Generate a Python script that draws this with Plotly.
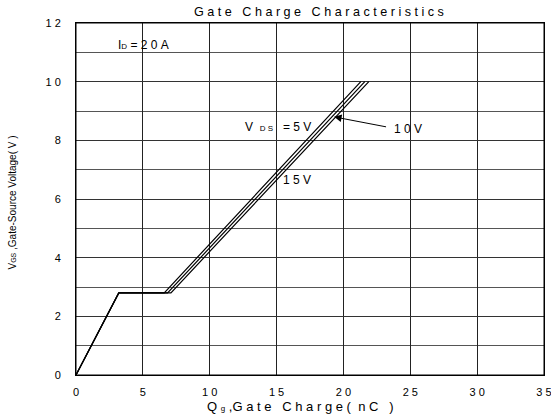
import plotly.graph_objects as go

# Data
qg_5v = [0, 3.2, 6.6, 21.3]
vgs_5v = [0, 2.8, 2.8, 10]
qg_10v = [0, 3.2, 6.85, 21.6]
vgs_10v = [0, 2.8, 2.8, 10]
qg_15v = [0, 3.2, 7.1, 21.9]
vgs_15v = [0, 2.8, 2.8, 10]

x_ticks = [0, 5, 10, 15, 20, 25, 30, 35]
x_ticktext = ["0", "5", "1\u00a00", "1\u00a05", "2\u00a00", "2\u00a05", "3\u00a00", "3\u00a05"]
y_ticks = [0, 2, 4, 6, 8, 10, 12]
y_ticktext = ["0", "2", "4", "6", "8", "1\u00a00", "1\u00a02"]

FONT = "Arial, Liberation Sans, sans-serif"
NB = "\u00a0"


def spaced(s, gap=1):
    """Letter-spaced text using non-breaking spaces."""
    out = []
    for w in s.split(" "):
        out.append(NB.join(list(w)))
    return (NB * (gap + 2)).join(out)


fig = go.Figure()
for xs, ys, name in [(qg_5v, vgs_5v, "5V"), (qg_10v, vgs_10v, "10V"), (qg_15v, vgs_15v, "15V")]:
    fig.add_trace(go.Scatter(x=xs, y=ys, mode="lines", name=name,
                             line=dict(color="black", width=1.2), showlegend=False))

fig.update_layout(
    width=551, height=416,
    margin=dict(l=76, r=7, t=23, b=41, autoexpand=False),
    paper_bgcolor="white", plot_bgcolor="white",
    font=dict(family=FONT, size=11, color="black"),
    showlegend=False,
)

fig.update_xaxes(
    range=[0, 35], tickvals=x_ticks, ticktext=x_ticktext,
    showgrid=True, gridcolor="#222", gridwidth=1,
    showline=True, linecolor="black", linewidth=1, mirror=True,
    ticks="", zeroline=False, ticklabelstandoff=7, ticklabeloverflow="allow",
    tickfont=dict(family=FONT, size=11),
)
fig.update_yaxes(
    range=[0, 12], tickvals=y_ticks, ticktext=y_ticktext,
    showgrid=True, gridcolor="#333", gridwidth=1,
    minor=dict(dtick=1, showgrid=True, gridcolor="#555", gridwidth=1),
    showline=True, linecolor="black", linewidth=1, mirror=True,
    ticks="", zeroline=False, ticklabelstandoff=12, ticklabeloverflow="allow",
    tickfont=dict(family=FONT, size=11),
)

# Plot frame (explicit, so the right edge is drawn)
fig.add_shape(type="rect", xref="paper", yref="paper", x0=0, y0=0, x1=1, y1=1,
              line=dict(color="black", width=1), layer="above")

# Title
fig.add_annotation(text=spaced("Gate Charge Characteristics"),
                   xref="paper", yref="paper", x=0.52, y=1.0, yshift=11,
                   xanchor="center", yanchor="middle",
                   showarrow=False, font=dict(family=FONT, size=12.6))
# X axis title
xtitle = ("Q" + NB + "<span style='font-size:8px'>g</span>" + NB + "," + spaced("Gate") + NB * 3
          + spaced("Charge") + NB + "(" + NB * 2 + "n" + NB + "C" + NB * 3 + ")")
fig.add_annotation(text=xtitle,
                   xref="paper", yref="paper", x=0.48, y=0, yshift=-31,
                   xanchor="center", yanchor="middle",
                   showarrow=False, font=dict(family=FONT, size=13))
# Y axis title
fig.add_annotation(text="V<span style='font-size:7px'>GS</span>" + NB + ",Gate-Source Voltage(" + NB + "V" + NB + ")",
                   xref="paper", yref="paper", x=0, xshift=-63, y=0.49,
                   xanchor="center", yanchor="middle",
                   textangle=-90, showarrow=False, font=dict(family=FONT, size=10))

# In-plot labels
fig.add_annotation(text="I<span style='font-size:8px'>D</span>" + NB + "=" + NB + spaced("20A"), x=5.05, y=11.25,
                   showarrow=False, font=dict(family=FONT, size=12))
fig.add_annotation(text="V" + NB + NB + "<span style='font-size:8px'>D" + NB + "S</span>" + NB + NB + NB + "=" + NB + spaced("5V"),
                   x=15.1, y=8.45, showarrow=False, font=dict(family=FONT, size=12))
fig.add_annotation(text=spaced("15V"), x=16.5, y=6.65,
                   showarrow=False, font=dict(family=FONT, size=12))
fig.add_annotation(text=spaced("10V"), x=24.8, y=8.4,
                   showarrow=False, font=dict(family=FONT, size=12))
# Arrow pointing to the 10V line
fig.add_annotation(x=19.3, y=8.8, ax=23.3, ay=8.45, xref="x", yref="y",
                   axref="x", ayref="y", text="", showarrow=True,
                   arrowhead=2, arrowsize=1.5, arrowwidth=1, arrowcolor="black")

fig.write_html("out.html", config={"displayModeBar": False},
               post_script="document.body.style.margin='0';document.body.style.overflow='hidden';")
